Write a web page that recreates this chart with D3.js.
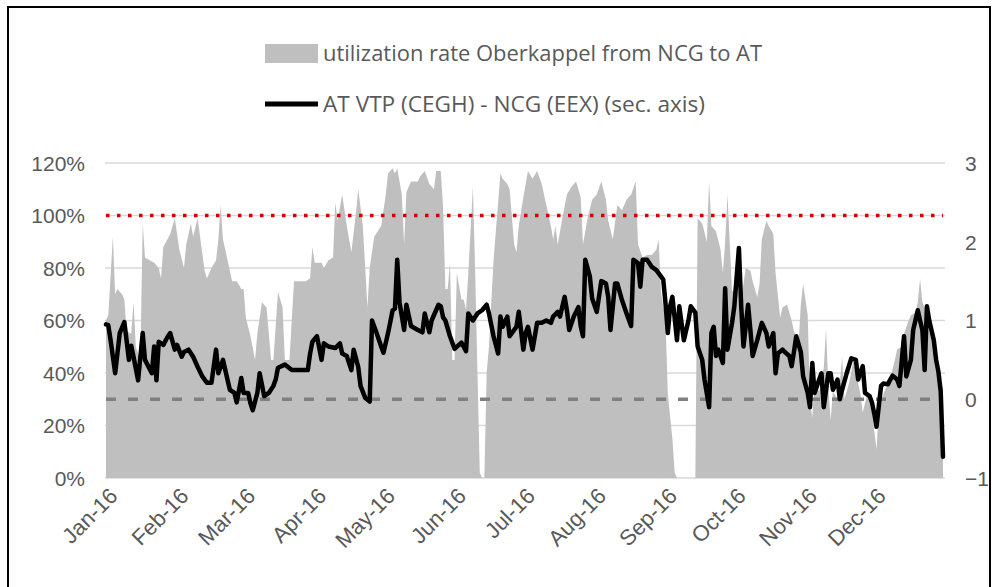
<!DOCTYPE html>
<html><head><meta charset="utf-8">
<script src="https://cdn.jsdelivr.net/npm/d3@7/dist/d3.min.js"></script>
<style>
html,body{margin:0;padding:0;background:#fff;}
svg{display:block;font-family:"Open Sans","Liberation Sans",sans-serif;}
</style></head>
<body>
<svg id="chart" width="997" height="587"></svg>
<script>
// ---------- DATA ----------
const monthLabels = ["Jan-16","Feb-16","Mar-16","Apr-16","May-16","Jun-16","Jul-16","Aug-16","Sep-16","Oct-16","Nov-16","Dec-16"];
const leftTicks = [0, 0.2, 0.4, 0.6, 0.8, 1.0, 1.2];
const rightTicks = [-1, 0, 1, 2, 3];
const seriesNames = ["utilization rate Oberkappel  from NCG to AT", "AT VTP (CEGH) - NCG (EEX) (sec. axis)"];
const capacityLimit = 1.0;   // red dotted line, left axis
const spreadZero = 0;        // grey dashed line, right axis

// utilization rate (% of capacity), by day of year 2016 (0 = 1 Jan)
const utilDay = [0,1,3,4,5,7,8,9,11,12,13,15,16,17,19,21,23,24,25,28,30,32,34,35,37,38,40,41,43,44,46,48,49,50,51,53,55,57,59,60,61,63,65,66,68,70,72,73,75,77,78,80,82,87,89,90,91,94,95,97,99,100,101,103,105,107,109,110,112,114,115,117,120,122,123,125,126,127,129,130,131,133,136,137,139,141,143,144,146,147,148,149,150,151,152,153,155,156,157,158,160,161,162,163,164,165,166,167,169,171,172,173,175,176,178,179,180,182,184,186,188,190,192,194,195,196,197,199,201,203,205,207,208,210,212,214,216,218,219,221,223,225,227,229,231,232,234,236,238,240,241,242,244,245,247,248,249,257,258,260,262,263,264,266,268,269,270,271,272,273,275,277,279,281,282,284,285,286,288,289,291,292,294,295,297,299,300,302,303,304,306,307,308,309,311,313,314,315,316,317,319,320,321,322,324,326,327,329,330,332,334,335,336,337,339,340,342,344,345,347,348,350,351,353,354,355,356,358,359,361,362,363,365];
const utilRate = [60,62,92,70,72,70,68,56,55,67,50,45,97,84,83,82,80,76,88,93,99,87,80,89,97,92,99,92,79,76,80,83,91,104,91,83,75,75,72,72,61,54,45,55,67,65,45,45,71,65,45,45,75,75,76,88,82,82,80,83,84,105,98,108,96,86,101,110,96,65,80,92,96,108,116,118,116,118,108,89,109,113,113,115,117,112,110,117,117,103,72,72,82,45,45,78,68,68,64,78,111,78,40,2,0,0,40,50,83,105,116,114,112,110,89,86,96,107,117,114,117,112,104,96,91,96,89,99,108,111,113,107,89,99,106,108,113,106,98,91,104,102,106,108,113,89,84,85,85,87,91,71,60,32,15,2,0,0,99,97,90,113,96,94,87,78,90,108,90,71,73,68,80,79,75,69,74,91,98,96,93,78,61,65,66,60,56,51,66,74,62,30,23,36,33,42,57,35,22,33,30,36,46,30,36,45,40,32,25,32,25,18,11,25,32,34,38,45,49,50,55,60,62,63,67,76,67,63,56,53,42,39,34];

// price spread AT VTP - NCG (EUR/MWh, secondary axis), by day of year 2016
const spreadDay = [0,1,2,4,6,8,10,11,12,14,16,17,20,21,22,23,25,27,28,30,31,33,34,36,38,40,42,44,46,48,49,51,54,56,57,59,60,62,63,64,66,67,69,71,73,74,75,78,81,86,88,89,90,92,94,95,97,100,102,103,105,107,108,110,111,113,115,116,118,120,121,123,125,126,127,128,130,131,133,136,138,139,141,142,145,146,147,148,150,152,155,157,158,160,162,164,166,167,169,171,172,173,175,176,179,180,182,183,184,186,188,190,192,194,195,197,198,200,201,202,204,206,207,208,209,211,212,214,216,218,219,220,222,223,225,227,229,230,232,233,234,236,238,240,243,244,245,246,247,249,250,252,254,255,257,258,260,261,263,264,265,266,267,269,270,271,273,274,276,277,278,280,281,282,284,286,288,289,291,292,293,295,296,298,299,300,301,303,304,306,307,308,309,311,312,313,315,316,317,319,320,321,323,325,327,328,330,331,333,334,335,336,338,339,341,342,343,345,346,348,349,351,352,354,355,356,357,358,359,361,362,363,364,365];
const spreadValue = [0.95,0.94,0.75,0.33,0.84,0.98,0.50,0.68,0.54,0.24,0.84,0.50,0.33,0.67,0.24,0.73,0.69,0.80,0.84,0.63,0.69,0.54,0.60,0.63,0.54,0.41,0.29,0.21,0.21,0.63,0.33,0.50,0.12,0.08,-0.04,0.27,0.08,0.08,-0.05,-0.14,0.08,0.33,0.04,0.08,0.17,0.25,0.40,0.44,0.37,0.37,0.37,0.58,0.73,0.80,0.50,0.71,0.67,0.65,0.71,0.58,0.55,0.37,0.63,0.41,0.17,0.02,-0.03,1.00,0.84,0.67,0.59,0.84,1.13,1.15,1.77,1.23,0.88,1.20,0.93,0.88,0.85,1.09,0.85,1.00,1.20,1.18,1.04,1.00,0.80,0.64,0.72,0.61,1.09,1.00,1.09,1.13,1.20,1.09,0.80,0.58,1.05,0.92,1.05,0.80,0.92,1.11,0.63,0.84,0.92,0.63,0.97,0.97,1.00,0.97,1.05,1.11,1.05,1.30,1.13,0.88,1.05,1.17,0.93,0.80,1.77,1.56,1.28,1.11,1.50,1.47,1.30,0.88,1.47,1.47,1.26,1.09,0.93,1.77,1.73,1.43,1.77,1.77,1.68,1.64,1.52,1.22,0.84,1.18,1.30,0.75,1.18,0.75,1.00,1.18,1.10,0.67,0.50,0.25,-0.10,0.84,0.92,0.55,0.63,0.46,1.41,0.63,0.97,1.18,1.92,1.18,0.67,1.20,0.88,0.55,0.75,0.97,0.84,0.67,0.84,0.33,0.58,0.63,0.60,0.55,0.42,0.60,0.80,0.60,0.29,0.08,-0.10,0.46,0.08,0.25,0.33,-0.10,0.33,0.33,0.12,0.25,0.00,0.12,0.33,0.52,0.50,0.25,0.42,0.08,0.04,-0.04,-0.18,-0.35,0.17,0.20,0.19,0.25,0.30,0.25,0.17,0.80,0.29,0.50,0.88,1.13,1.00,0.88,0.37,1.18,1.00,0.75,0.50,0.35,0.10,-0.73];

// ---------- CHART ----------
const svg = d3.select("#chart");
const dayToDate = d => new Date(2016, 0, 1 + d);
const plot = {left: 106, right: 943, top: 163, bottom: 478};

const x = d3.scaleTime().domain([new Date(2016,0,1), new Date(2016,11,31)]).range([plot.left, plot.right]);
const yL = d3.scaleLinear().domain([0, 1.2]).range([plot.bottom, plot.top]);
const yR = d3.scaleLinear().domain([-1, 3]).range([plot.bottom, plot.top]);

// outer border
svg.append("rect").attr("x", 8).attr("y", 7).attr("width", 982).attr("height", 620)
  .attr("fill", "none").attr("stroke", "#000").attr("stroke-width", 2);

// gridlines
svg.append("g").selectAll("line").data(leftTicks).join("line")
  .attr("x1", plot.left - 1).attr("x2", plot.right + 2)
  .attr("y1", d => yL(d)).attr("y2", d => yL(d))
  .attr("stroke", "#d9d9d9").attr("stroke-width", 1.5);

// area
const util = utilDay.map((d, i) => ({date: dayToDate(d), v: utilRate[i] / 100}));
svg.append("path").datum(util)
  .attr("fill", "#bfbfbf")
  .attr("d", d3.area().x(d => x(d.date)).y0(yL(0)).y1(d => yL(d.v)));

// reference lines
svg.append("line")
  .attr("x1", plot.left).attr("x2", plot.right)
  .attr("y1", yL(capacityLimit)).attr("y2", yL(capacityLimit))
  .attr("stroke", "#d40000").attr("stroke-width", 3.5)
  .attr("stroke-dasharray", "3.5,7.5");
svg.append("line")
  .attr("x1", plot.left).attr("x2", plot.right)
  .attr("y1", yR(spreadZero)).attr("y2", yR(spreadZero))
  .attr("stroke", "#808080").attr("stroke-width", 3.5)
  .attr("stroke-dasharray", "10,12");

// spread line
const spread = spreadDay.map((d, i) => ({date: dayToDate(d), v: spreadValue[i]}));
svg.append("path").datum(spread)
  .attr("fill", "none").attr("stroke", "#000").attr("stroke-width", 4.5)
  .attr("stroke-linejoin", "round").attr("stroke-linecap", "round")
  .attr("d", d3.line().x(d => x(d.date)).y(d => yR(d.v)));

// left axis
const axL = svg.append("g").attr("transform", `translate(${plot.left},0)`)
  .call(d3.axisLeft(yL).tickValues(leftTicks).tickFormat(d3.format(".0%")).tickSize(0).tickPadding(21));
axL.select(".domain").remove();
axL.selectAll("text").attr("fill", "#595959").attr("font-size", 21).attr("dy", "0.35em");

// right axis
const axR = svg.append("g").attr("transform", `translate(${plot.right},0)`)
  .call(d3.axisRight(yR).tickValues(rightTicks).tickFormat(d3.format("d")).tickSize(0).tickPadding(22));
axR.select(".domain").remove();
axR.selectAll("text").attr("fill", "#595959").attr("font-size", 21).attr("dy", "0.35em");

// bottom axis
const monthDates = monthLabels.map((m, i) => new Date(2016, i, 1));
const axB = svg.append("g").attr("transform", `translate(0,${plot.bottom})`)
  .call(d3.axisBottom(x).tickValues(monthDates).tickFormat((d, i) => monthLabels[i]).tickSize(0));
axB.select(".domain").remove();
axB.selectAll("text")
  .attr("fill", "#595959").attr("font-size", 22)
  .attr("text-anchor", "end")
  .attr("transform", "translate(7,14) rotate(-45)")
  .attr("dy", "0.35em").attr("y", 0).attr("x", 0);

// legend
const lg = svg.append("g");
lg.append("rect").attr("x", 265).attr("y", 44).attr("width", 53).attr("height", 19).attr("fill", "#bfbfbf");
lg.append("text").attr("x", 323).attr("y", 61).attr("font-size", 21).attr("fill", "#595959")
  .attr("textLength", 439).attr("lengthAdjust", "spacingAndGlyphs").text(seriesNames[0]);
lg.append("line").attr("x1", 265).attr("x2", 318).attr("y1", 104).attr("y2", 104)
  .attr("stroke", "#000").attr("stroke-width", 5);
lg.append("text").attr("x", 323).attr("y", 112).attr("font-size", 21).attr("fill", "#595959")
  .attr("textLength", 382).attr("lengthAdjust", "spacingAndGlyphs").text(seriesNames[1]);
</script>
</body></html>
